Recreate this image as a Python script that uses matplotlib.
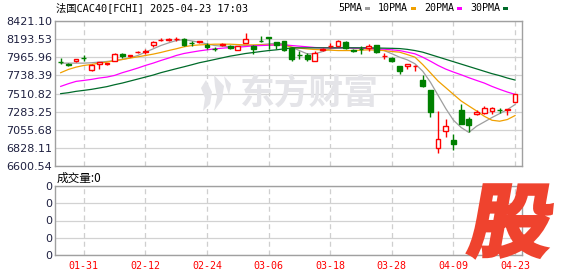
import numpy as np
import matplotlib.pyplot as plt
from matplotlib.patches import PathPatch, Polygon, Rectangle
from matplotlib.textpath import TextPath
from matplotlib.font_manager import FontProperties
from matplotlib.transforms import Affine2D, IdentityTransform

# daily candles, 2025-01-28 .. 2025-04-23
opens = [7906, 7877, 7913, 7962, 7800, 7884, 7876, 7925, 8005, 7982,
         8026, 8038, 8125, 8184, 8186, 8192, 8196, 8148, 8158, 8121,
         8073, 8121, 8104, 8059, 8146, 8113, 8169, 8221, 8154, 8167,
         8084, 7998, 7988, 7925, 8059, 8109, 8113, 8163, 8059, 8073,
         8080, 8121, 7976, 7955, 7850, 7850, 7858, 7684, 7550, 6821,
         7042, 6925, 7300, 7196, 7250, 7267, 7288, 7302, 7309, 7404]
highs = [7954, 7892, 7950, 7996, 7880, 7910, 7898, 8015, 8025, 8000,
         8045, 8065, 8170, 8205, 8205, 8225, 8210, 8176, 8176, 8142,
         8092, 8146, 8121, 8110, 8267, 8121, 8229, 8225, 8160, 8175,
         8092, 8050, 8021, 8050, 8080, 8142, 8180, 8170, 8065, 8113,
         8134, 8125, 8021, 7967, 7855, 7884, 7866, 7738, 7555, 7288,
         7188, 7000, 7384, 7217, 7300, 7354, 7340, 7334, 7320, 7505]
lows = [7884, 7858, 7905, 7925, 7795, 7822, 7868, 7920, 7962, 7975,
        8015, 8010, 8092, 8165, 8175, 8167, 8110, 8113, 8146, 8071,
        8050, 8113, 8071, 8055, 8140, 8009, 8160, 8071, 8071, 8050,
        7925, 7946, 7925, 7915, 8050, 8084, 8105, 8075, 8030, 8009,
        8050, 8025, 7938, 7905, 7759, 7822, 7791, 7590, 7217, 6767,
        6967, 6800, 7130, 7030, 7238, 7259, 7250, 7267, 7238, 7400]
closes = [7902, 7873, 7938, 7958, 7863, 7904, 7892, 8009, 7982, 7996,
          8030, 8042, 8163, 8188, 8192, 8198, 8121, 8144, 8164, 8092,
          8069, 8134, 8084, 8104, 8196, 8071, 8165, 8209, 8121, 8059,
          7946, 7994, 7946, 8021, 8071, 8113, 8175, 8080, 8040, 8069,
          8104, 8030, 7980, 7925, 7788, 7875, 7862, 7604, 7279, 6938,
          7100, 6871, 7134, 7113, 7280, 7334, 7334, 7298, 7313, 7500]

ma5 = [7892, 7892, 7892, 7892, 7897, 7905, 7913, 7925, 7938, 7959,
       7988, 8030, 8071, 8113, 8146, 8176, 8188, 8171, 8154, 8134,
       8113, 8105, 8100, 8105, 8113, 8113, 8125, 8134, 8142, 8134,
       8092, 8050, 8009, 8009, 8038, 8071, 8084, 8092, 8084, 8080,
       8080, 8071, 8050, 8010, 7967, 7934, 7884, 7792, 7654, 7488,
       7322, 7175, 7084, 7022, 7100, 7154, 7209, 7259, 7309, 7372]
ma10 = [7772, 7813, 7842, 7863, 7875, 7892, 7905, 7922, 7938, 7955,
        7971, 7988, 8005, 8026, 8050, 8072, 8097, 8113, 8121, 8125,
        8130, 8130, 8130, 8125, 8121, 8121, 8121, 8121, 8121, 8121,
        8092, 8080, 8071, 8063, 8059, 8055, 8050, 8050, 8050, 8055,
        8059, 8055, 8050, 8038, 8030, 8000, 7967, 7875, 7772, 7667,
        7584, 7500, 7417, 7354, 7292, 7225, 7175, 7163, 7184, 7234]
ma20 = [7600, 7634, 7663, 7675, 7688, 7705, 7717, 7738, 7772, 7800,
        7830, 7863, 7892, 7925, 7955, 7988, 8013, 8030, 8046, 8059,
        8071, 8080, 8088, 8092, 8100, 8109, 8113, 8117, 8121, 8121,
        8113, 8105, 8097, 8088, 8084, 8084, 8084, 8084, 8080, 8080,
        8076, 8071, 8067, 8059, 8050, 8030, 8009, 7967, 7917, 7863,
        7817, 7780, 7746, 7709, 7675, 7642, 7600, 7563, 7529, 7500]
ma30 = [7509, 7521, 7538, 7550, 7563, 7580, 7597, 7621, 7642, 7667,
        7692, 7717, 7742, 7772, 7797, 7822, 7846, 7871, 7897, 7917,
        7938, 7959, 7980, 7996, 8013, 8025, 8038, 8050, 8059, 8071,
        8084, 8084, 8084, 8084, 8084, 8084, 8084, 8084, 8084, 8084,
        8084, 8082, 8080, 8078, 8075, 8065, 8050, 8030, 8000, 7970,
        7940, 7910, 7880, 7850, 7820, 7790, 7760, 7735, 7705, 7680]

price_ticks = [6600.54, 6828.11, 7055.68, 7283.25, 7510.82,
               7738.39, 7965.96, 8193.53, 8421.10]
date_pos = [3, 11, 19, 27, 35, 43, 51, 59]
date_labels = ["01-31", "02-12", "02-24", "03-06", "03-18", "03-28", "04-09", "04-23"]

ma_names = ["5PMA", "10PMA", "20PMA", "30PMA"]
ma_colors = ["#9e9e9e", "#f0a000", "#ff00ff", "#006b2a"]
UP, DOWN = "#ff0000", "#008000"

W, H = 578, 276
fig = plt.figure(figsize=(W / 100, H / 100), dpi=100)
mono = ["DejaVu Sans Mono", "Noto Sans CJK SC"]
tick_col = "#1e2040"


def box(l, t, r, b):
    return [l / W, 1 - b / H, (r - l) / W, (b - t) / H]


ax = fig.add_axes(box(55, 21, 522, 166))
vax = fig.add_axes(box(55, 186, 522, 255))

# watermark
wm = "#e4e4e8"
fig.text(309 / W, 1 - 93 / H, "东方财富", fontsize=25, fontweight="bold",
         color=wm, ha="center", va="center", family="Noto Sans CJK SC", zorder=0)
for pts in ([(214, 75), (224, 86), (222, 100), (214, 111), (217, 97), (215, 86)],
            [(206, 80), (212, 92), (210, 104), (203, 111), (205, 98), (201, 88)],
            [(224, 76), (231, 84), (229, 95), (226, 86)]):
    fig.patches.append(Polygon([(x, H - y) for x, y in pts], closed=True,
                               facecolor=wm, edgecolor="none",
                               transform=IdentityTransform(), zorder=0))

for a in (ax, vax):
    a.set_facecolor("none")
    a.set_xlim(-0.74, 59.9)
    for s in a.spines.values():
        s.set_color("#a0a0a0")
        s.set_linewidth(1)
    a.set_xticks(date_pos)
    a.grid(axis="x", color="#cfcfcf", linestyle=(0, (4, 3)), linewidth=0.9)
    a.grid(axis="y", color="#d2d2d2", linestyle="-", linewidth=0.9)
    a.set_axisbelow(True)
    a.tick_params(length=0, labelsize=8, labelcolor=tick_col, pad=2)

ax.set_ylim(price_ticks[0], price_ticks[-1])
ax.set_yticks(price_ticks)
ax.set_yticklabels([f"{v:.2f}" for v in price_ticks])
ax.set_xticklabels([])

x = np.arange(len(closes))
o = np.array(opens)
c = np.array(closes)
hi = np.array(highs)
lo = np.array(lows)
up = c >= o
col = np.where(up, UP, DOWN)
top = np.maximum(o, c)
bot = np.minimum(o, c)

ax.vlines(x, top, hi, colors=col, linewidth=1, zorder=3)
ax.vlines(x, lo, bot, colors=col, linewidth=1, zorder=3)
ax.bar(x, np.maximum(top - bot, 1), bottom=bot, width=0.62,
       color=np.where(up, "white", DOWN), edgecolor=col, linewidth=1, zorder=4)

for vals, cc in zip([ma5, ma10, ma20, ma30], ma_colors):
    ax.plot(x, vals, color=cc, linewidth=0.9, zorder=2)

# volume panel (no data)
vax.set_ylim(0, 4)
vax.set_yticks([0, 1, 2, 3, 4])
vax.set_yticklabels(["0"] * 5)
vax.set_xticklabels(date_labels, color="#ff0000", fontsize=7.2, family=mono)
vax.tick_params(axis="x", pad=4)
fig.text(57 / W, 1 - 178 / H, "成交量:0", fontsize=8.4, va="center",
         family=["Noto Sans CJK SC", "DejaVu Sans"])

# header
fig.text(56 / W, 1 - 8 / H, "法国CAC40[FCHI] 2025-04-23 17:03", fontsize=7.4,
         va="center", family=mono)
lx = 338
for name, cc in zip(ma_names, ma_colors):
    fig.text(lx / W, 1 - 8 / H, name, fontsize=7.2, va="center", family=mono)
    w = 6.0 * len(name)
    fig.patches.append(Rectangle((lx + w + 3, H - 10), 5, 3, facecolor=cc,
                                 edgecolor="none", transform=IdentityTransform()))
    lx += w + 16

# red 股 badge
fp = FontProperties(family="Noto Sans CJK SC", weight="heavy")
tp = TextPath((0, 0), "股", size=100, prop=fp)
ext = tp.get_extents()
gw, gh = 78, 72
tr = (Affine2D().translate(-ext.x0, -ext.y0)
      .scale(gw / ext.width, gh / ext.height)
      .skew_deg(10, 0)
      .translate(467, H - 257))
fig.patches.append(PathPatch(tr.transform_path(tp), facecolor="#ef432e",
                             edgecolor="#ef432e", linewidth=2.6,
                             joinstyle="miter", transform=IdentityTransform(),
                             zorder=10))

fig.savefig("out.png", dpi=100)
